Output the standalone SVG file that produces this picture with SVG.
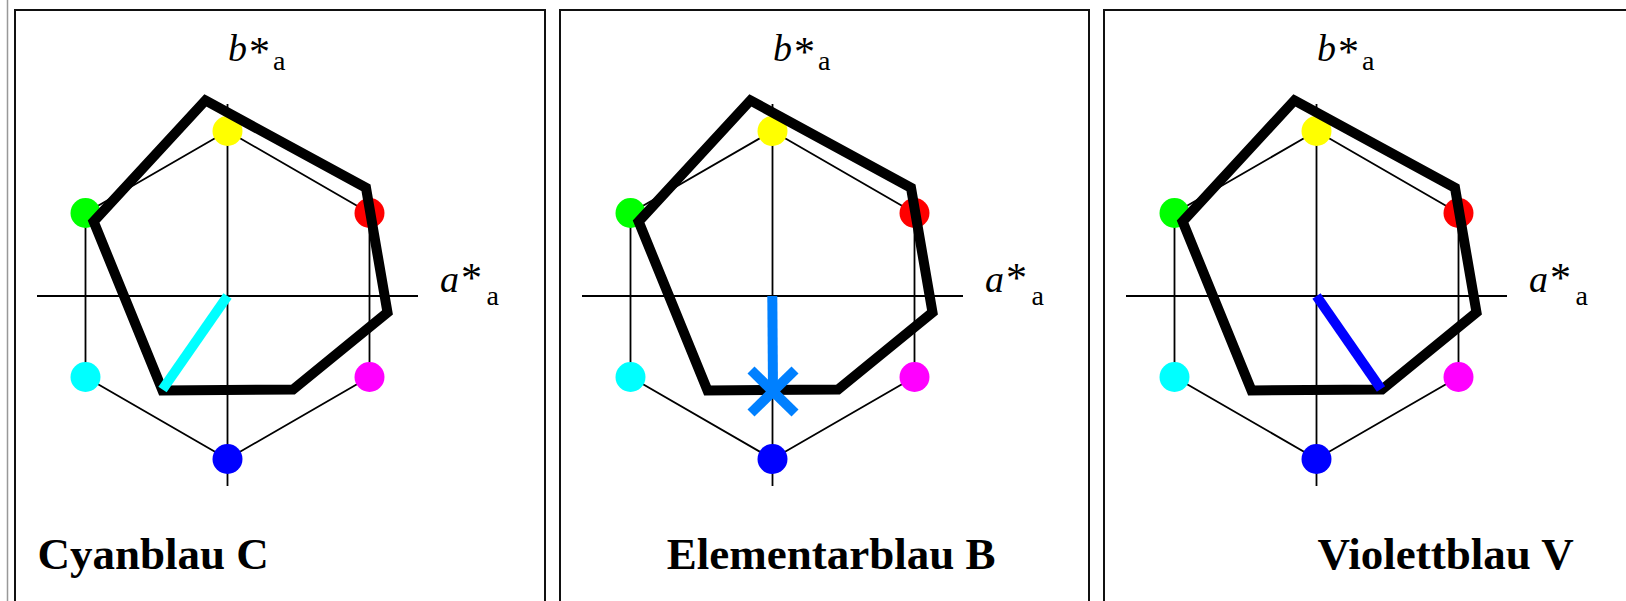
<svg xmlns="http://www.w3.org/2000/svg" width="1626" height="601" viewBox="0 0 1626 601">
<style>
.frame{fill:none;stroke:#111;stroke-width:2}
.axis{stroke:#000;stroke-width:1.8}
.hex{fill:none;stroke:#000;stroke-width:1.8}
.gamut{fill:none;stroke:#000;stroke-width:10;stroke-linejoin:miter}
.lbl{font-family:"Liberation Serif","Times New Roman",serif;font-size:38px;fill:#000}
.it{font-style:italic}
.ast{font-size:42px}
.sub{font-size:28px}
.ttl{font-family:"Liberation Serif","Times New Roman",serif;font-size:45px;font-weight:bold;fill:#000}
</style>
<defs>
<g id="base">
<line class="axis" x1="227.5" y1="104" x2="227.5" y2="486"/>
<line class="axis" x1="37" y1="296" x2="418" y2="296"/>
<polygon class="hex" points="227.5,131 369.5,213 369.5,377 227.5,459 85.5,377 85.5,213"/>
<circle cx="227.5" cy="131" r="15" fill="#ffff00"/>
<circle cx="369.5" cy="213" r="15" fill="#ff0000"/>
<circle cx="369.5" cy="377" r="15" fill="#ff00ff"/>
<circle cx="227.5" cy="459" r="15" fill="#0000ff"/>
<circle cx="85.5" cy="377" r="15" fill="#00ffff"/>
<circle cx="85.5" cy="213" r="15" fill="#00ff00"/>
<polygon class="gamut" points="205.4,100.4 366,187.8 387.5,312.4 293,389.5 162.5,390.5 93.6,221.5"/>
<text class="lbl it" x="228" y="61">b</text>
<text class="lbl ast" x="249" y="66">*</text>
<text class="lbl sub" x="273" y="70">a</text>
<text class="lbl it" x="440" y="292">a</text>
<text class="lbl ast" x="461" y="292">*</text>
<text class="lbl sub" x="486.5" y="305">a</text>
</g>
</defs>
<line x1="7.5" y1="0" x2="7.5" y2="601" stroke="#999" stroke-width="1.5"/>
<g id="panel-cyanblau">
<rect class="frame" x="15" y="10" width="530" height="620"/>
<use href="#base"/>
<text class="ttl" x="37.5" y="569">Cyanblau C</text>
</g>
<g id="panel-elementarblau">
<rect class="frame" x="560" y="10" width="529" height="620"/>
<use href="#base" transform="translate(545,0)"/>
<text class="ttl" x="666.8" y="569">Elementarblau B</text>
</g>
<g id="panel-violettblau">
<rect class="frame" x="1104" y="10" width="560" height="620"/>
<use href="#base" transform="translate(1089,0)"/>
<text class="ttl" x="1317.4" y="569">Violettblau V</text>
</g>
<g id="connectors">
<line x1="227.5" y1="296" x2="162.5" y2="389.5" stroke="#00ffff" stroke-width="10"/>
<line x1="772.3" y1="296" x2="773" y2="391" stroke="#0080ff" stroke-width="10"/>
<line x1="751" y1="370" x2="795" y2="413" stroke="#0080ff" stroke-width="10"/>
<line x1="795" y1="370" x2="751" y2="413" stroke="#0080ff" stroke-width="10"/>
<line x1="1316.5" y1="296" x2="1381" y2="389" stroke="#0000ff" stroke-width="10"/>
</g>
</svg>
